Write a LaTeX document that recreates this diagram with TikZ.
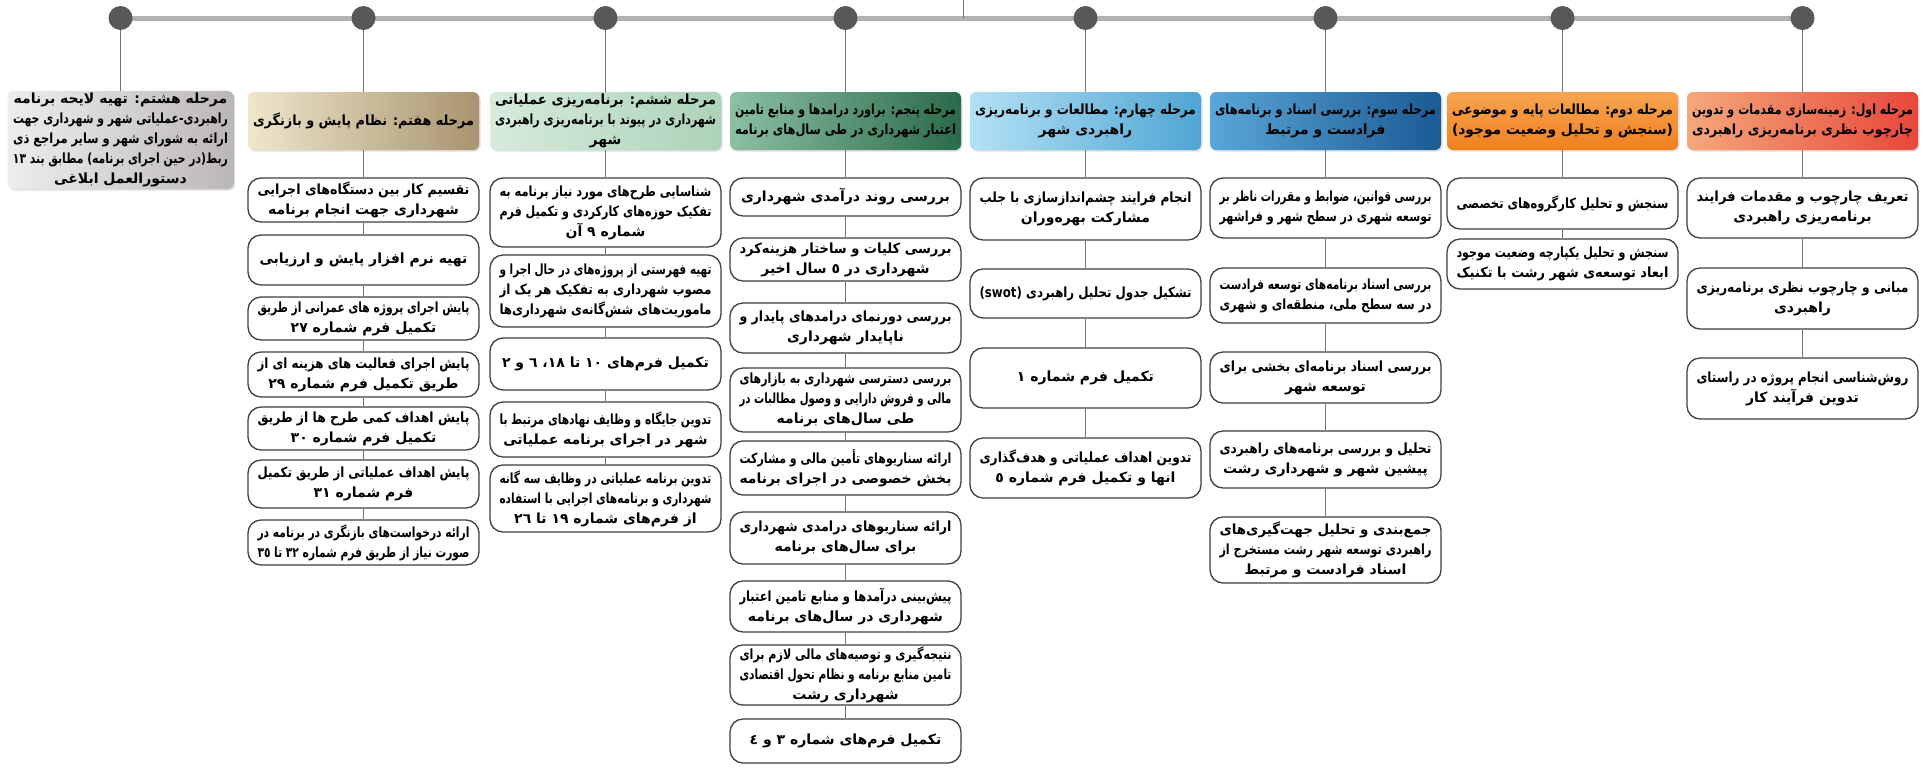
\documentclass[tikz,border=0pt]{standalone}
\usepackage{fontspec}
\usepackage{graphicx}
\newfontfamily\arabicfont[Script=Arabic]{DejaVu Sans}
\TeXXeTstate=1
\usetikzlibrary{shadows}
\newsavebox\flbox
\newlength\maxlw
\newlength\fltmp
\setlength\maxlw{212pt}
\newcommand\fl[1]{\sbox\flbox{\beginR#1\endR}%
  \setlength\fltmp{\wd\flbox}%
  \ifdim\fltmp>\maxlw
    \pgfmathsetmacro\flr{\maxlw/\fltmp}\scalebox{\flr}[1]{\usebox\flbox}%
  \else\usebox\flbox\fi}
\newcommand\bx[6]{\node[#1, minimum height={#5-#4}] (#2) at (#3,{(#4+#5)/2}) {#6};}
\definecolor{dotc}{HTML}{58585A}
\definecolor{h1l}{HTML}{F4A77C}\definecolor{h1r}{HTML}{E8473A}
\definecolor{h2t}{HTML}{F7A451}\definecolor{h2b}{HTML}{F0801F}
\definecolor{h3l}{HTML}{5AA6D8}\definecolor{h3r}{HTML}{1B5A93}
\definecolor{h4l}{HTML}{B3E0F5}\definecolor{h4r}{HTML}{4FA5D2}
\definecolor{h5l}{HTML}{8CC0A2}\definecolor{h5r}{HTML}{2A6A4B}
\definecolor{h6l}{HTML}{D6EBDC}\definecolor{h6r}{HTML}{ACD3B8}
\definecolor{h7l}{HTML}{EFE6CC}\definecolor{h7r}{HTML}{A8946E}
\definecolor{h8l}{HTML}{EEEDED}\definecolor{h8r}{HTML}{BCB7B7}
\tikzset{
  txt/.style={font=\arabicfont\bfseries\fontsize{14}{20}\selectfont, align=center, text=black},
  sbox/.style={txt, draw=black!75, line width=1.3pt, fill=white, rounded corners=13pt, minimum width=231pt, inner sep=2pt, execute at begin node={\setlength\maxlw{212pt}}},
  hdr/.style={txt, rounded corners=6pt, minimum width=231pt, inner sep=2pt, drop shadow={opacity=0.25, shadow xshift=1.5pt, shadow yshift=-1.5pt}, execute at begin node={\setlength\maxlw{221pt}}},
  conn/.style={draw=black!55, line width=1.2pt},
  hline/.style={draw=black!30, line width=5pt},
  dot/.style={circle, fill=dotc, minimum size=24pt, inner sep=0pt},
  h1/.style={left color=h1l, right color=h1r},
  h2/.style={top color=h2t, bottom color=h2b},
  h3/.style={left color=h3l, right color=h3r},
  h4/.style={left color=h4l, right color=h4r},
  h5/.style={left color=h5l, right color=h5r},
  h6/.style={left color=h6l, right color=h6r},
  h7/.style={left color=h7l, right color=h7r},
  h8/.style={left color=h8l, right color=h8r, minimum width=226pt, execute at begin node={\setlength\maxlw{215pt}}},
}
\begin{document}
\begin{tikzpicture}[x=1pt,y=-1pt]
\useasboundingbox (0,0) rectangle (1923,772);
\fill[white] (0,0) rectangle (1923,772);
% top line
\coordinate (q1) at (1802.5,18);
\coordinate (q2) at (1562.5,18);
\coordinate (q3) at (1325.5,18);
\coordinate (q4) at (1085.5,18);
\coordinate (q5) at (845.5,18);
\coordinate (q6) at (605.5,18);
\coordinate (q7) at (363.5,18);
\coordinate (q8) at (120.5,18);
\coordinate (top) at (963,0);
\coordinate (topj) at (963,18);
\draw[hline] (q8) -- (q1);
\draw[conn, line width=0.8pt] (top) -- (topj);
\foreach \i in {1,...,8} {\node[dot] (p\i) at (q\i) {};}
% headers
\bx{hdr,h1}{h1}{1802.5}{92}{150}{\fl{مرحله اول: زمینه‌سازی مقدمات و  تدوین}\\\fl{چارچوب نظری برنامه‌ریزی راهبردی}}
\bx{hdr,h2}{h2}{1562.5}{92}{150}{\fl{مرحله دوم: مطالعات پایه و موضوعی}\\\fl{(سنجش و تحلیل وضعیت موجود)}}
\bx{hdr,h3}{h3}{1325.5}{92}{150}{\fl{مرحله سوم: بررسی اسناد و برنامه‌های}\\\fl{فرادست و مرتبط}}
\bx{hdr,h4}{h4}{1085.5}{92}{150}{\fl{مرحله چهارم: مطالعات و برنامه‌ریزی}\\\fl{راهبردی شهر}}
\bx{hdr,h5}{h5}{845.5}{92}{150}{\fl{مرحله پنجم: براورد درامدها و منابع تامین}\\\fl{اعتبار شهرداری در طی سال‌های برنامه}}
\bx{hdr,h6}{h6}{605.5}{92}{150}{\fl{مرحله ششم: برنامه‌ریزی عملیاتی}\\\fl{شهرداری در پیوند با برنامه‌ریزی راهبردی}\\\fl{شهر}}
\bx{hdr,h7}{h7}{363.5}{92}{150}{\fl{مرحله هفتم: نظام پایش و بازنگری}}
\bx{hdr,h8}{h8}{120.5}{92}{188}{\fl{مرحله هشتم: تهیه لایحه برنامه}\\\fl{راهبردی-عملیاتی شهر و شهرداری جهت}\\\fl{ارائه به شورای شهر و سایر مراجع ذی}\\\fl{ربط(در حین اجرای برنامه) مطابق بند \beginL١٣\endL}\\\fl{دستورالعمل ابلاغی}}
% column 1
\bx{sbox}{a1}{1802.5}{178}{238}{\fl{تعریف چارچوب و مقدمات فرایند}\\\fl{برنامه‌ریزی راهبردی}}
\bx{sbox}{a2}{1802.5}{268}{329}{\fl{مبانی و چارچوب نظری برنامه‌ریزی}\\\fl{راهبردی}}
\bx{sbox}{a3}{1802.5}{358}{419}{\fl{روش‌شناسی انجام پروژه در راستای}\\\fl{تدوین فرآیند کار}}
% column 2
\bx{sbox}{b1}{1562.5}{178}{229}{\fl{سنجش و تحلیل کارگروه‌های تخصصی}}
\bx{sbox}{b2}{1562.5}{239}{289}{\fl{سنجش و تحلیل یکپارچه وضعیت موجود}\\\fl{ابعاد توسعه‌ی شهر رشت با تکنیک}}
% column 3
\bx{sbox}{c1}{1325.5}{178}{238}{\fl{بررسی قوانین، ضوابط و مقررات ناظر بر}\\\fl{توسعه شهری در سطح شهر و فراشهر}}
\bx{sbox}{c2}{1325.5}{268}{323}{\fl{بررسی اسناد برنامه‌های توسعه فرادست}\\\fl{در سه سطح ملی، منطقه‌ای و شهری}}
\bx{sbox}{c3}{1325.5}{352}{403}{\fl{بررسی اسناد برنامه‌ای بخشی برای}\\\fl{توسعه شهر}}
\bx{sbox}{c4}{1325.5}{431}{488}{\fl{تحلیل و بررسی برنامه‌های راهبردی}\\\fl{پیشین شهر و شهرداری رشت}}
\bx{sbox}{c5}{1325.5}{517}{583}{\fl{جمع‌بندی و تحلیل جهت‌گیری‌های}\\\fl{راهبردی توسعه شهر رشت مستخرج از}\\\fl{اسناد فرادست و مرتبط}}
% column 4
\bx{sbox}{d1}{1085.5}{178}{240}{\fl{انجام فرایند چشم‌اندازسازی با جلب}\\\fl{مشارکت بهره‌وران}}
\bx{sbox}{d2}{1085.5}{269}{318}{\fl{تشکیل جدول تحلیل راهبردی \beginL(swot)\endL}}
\bx{sbox}{d3}{1085.5}{348}{408}{\fl{تکمیل فرم شماره ١}}
\bx{sbox}{d4}{1085.5}{438}{498}{\fl{تدوین اهداف عملیاتی و هدف‌گذاری}\\\fl{انها و تکمیل فرم شماره ٥}}
% column 5
\bx{sbox}{e1}{845.5}{178}{216}{\fl{بررسی روند درآمدی شهرداری}}
\bx{sbox}{e2}{845.5}{238}{281}{\fl{بررسی کلیات و ساختار هزینه‌کرد}\\\fl{شهرداری در ٥ سال اخیر}}
\bx{sbox}{e3}{845.5}{303}{353}{\fl{بررسی دورنمای درامدهای پایدار و}\\\fl{ناپایدار شهرداری}}
\bx{sbox}{e4}{845.5}{368}{432}{\fl{بررسی دسترسی شهرداری به بازارهای}\\\fl{مالی و فروش دارایی و وصول مطالبات در}\\\fl{طی سال‌های برنامه}}
\bx{sbox}{e5}{845.5}{441}{495}{\fl{ارائه سناریوهای تأمین مالی و مشارکت}\\\fl{بخش خصوصی در اجرای برنامه}}
\bx{sbox}{e6}{845.5}{512}{564}{\fl{ارائه سناریوهای درامدی شهرداری}\\\fl{برای سال‌های برنامه}}
\bx{sbox}{e7}{845.5}{581}{632}{\fl{پیش‌بینی درآمدها و منابع تامین اعتبار}\\\fl{شهرداری در سال‌های برنامه}}
\bx{sbox}{e8}{845.5}{646}{704}{\fl{نتیجه‌گیری و توصیه‌های مالی لازم برای}\\\fl{تامین منابع برنامه و نظام تحول اقتصادی}\\\fl{شهرداری رشت}}
\bx{sbox}{e9}{845.5}{719}{763}{\fl{تکمیل فرم‌های شماره ٣ و ٤}}
% column 6
\bx{sbox}{f1}{605.5}{178}{247}{\fl{شناسایی طرح‌های مورد نیاز برنامه به}\\\fl{تفکیک حوزه‌های کارکردی و تکمیل فرم}\\\fl{شماره ٩ آن}}
\bx{sbox}{f2}{605.5}{255}{327}{\fl{تهیه فهرستی از پروژه‌های در حال اجرا و}\\\fl{مصوب شهرداری به تفکیک هر یک از}\\\fl{ماموریت‌های شش‌گانه‌ی شهرداری‌ها}}
\bx{sbox}{f3}{605.5}{338}{390}{\fl{تکمیل فرم‌های \beginL١٠\endL{} تا \beginL١٨\endL، ٦ و ٢}}
\bx{sbox}{f4}{605.5}{402}{457}{\fl{تدوین جایگاه و وظایف نهادهای مرتبط با}\\\fl{شهر در اجرای برنامه عملیاتی}}
\bx{sbox}{f5}{605.5}{465}{532}{\fl{تدوین برنامه عملیاتی در وظایف سه گانه}\\\fl{شهرداری و برنامه‌های اجرایی با استفاده}\\\fl{از فرم‌های شماره \beginL١٩\endL{} تا \beginL٢٦\endL}}
% column 7
\bx{sbox}{g1}{363.5}{178}{222}{\fl{تقسیم کار بین دستگاه‌های اجرایی}\\\fl{شهرداری جهت انجام برنامه}}
\bx{sbox}{g2}{363.5}{235}{285}{\fl{تهیه نرم افزار پایش و ارزیابی}}
\bx{sbox}{g3}{363.5}{297}{340}{\fl{پایش اجرای پروژه های عمرانی از طریق}\\\fl{تکمیل فرم شماره \beginL٢٧\endL}}
\bx{sbox}{g4}{363.5}{352}{397}{\fl{پایش اجرای فعالیت های هزینه ای از}\\\fl{طریق تکمیل فرم شماره \beginL٢٩\endL}}
\bx{sbox}{g5}{363.5}{407}{450}{\fl{پایش اهداف کمی طرح ها از طریق}\\\fl{تکمیل فرم شماره \beginL٣٠\endL}}
\bx{sbox}{g6}{363.5}{460}{508}{\fl{پایش اهداف عملیاتی از طریق تکمیل}\\\fl{فرم شماره \beginL٣١\endL}}
\bx{sbox}{g7}{363.5}{520}{565}{\fl{ارائه درخواست‌های بازنگری در برنامه در}\\\fl{صورت نیاز از طریق فرم شماره \beginL٣٢\endL{} تا \beginL٣٥\endL}}
% connectors
\foreach \i in {1,...,8} {\draw[conn] (p\i) -- (h\i);}
\draw[conn] (h1) -- (a1) (a1) -- (a2) (a2) -- (a3);
\draw[conn] (h2) -- (b1) (b1) -- (b2);
\draw[conn] (h3) -- (c1) (c1) -- (c2) (c2) -- (c3) (c3) -- (c4) (c4) -- (c5);
\draw[conn] (h4) -- (d1) (d1) -- (d2) (d2) -- (d3) (d3) -- (d4);
\draw[conn] (h5) -- (e1) (e1) -- (e2) (e2) -- (e3) (e3) -- (e4) (e4) -- (e5) (e5) -- (e6) (e6) -- (e7) (e7) -- (e8) (e8) -- (e9);
\draw[conn] (h6) -- (f1) (f1) -- (f2) (f2) -- (f3) (f3) -- (f4) (f4) -- (f5);
\draw[conn] (h7) -- (g1) (g1) -- (g2) (g2) -- (g3) (g3) -- (g4) (g4) -- (g5) (g5) -- (g6) (g6) -- (g7);
\end{tikzpicture}
\end{document}
